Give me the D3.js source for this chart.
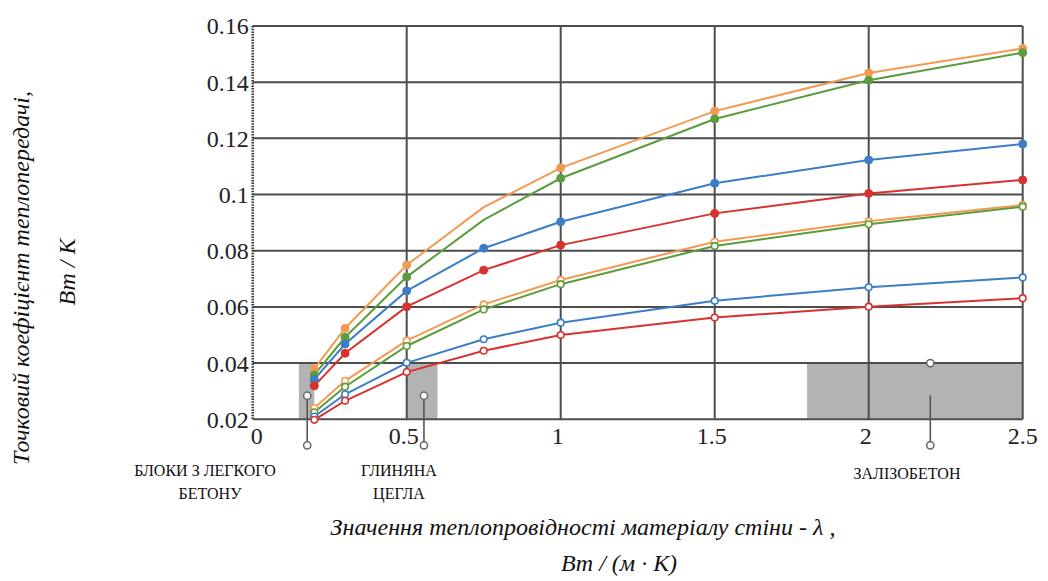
<!DOCTYPE html>
<html>
<head>
<meta charset="utf-8">
<script src="https://cdn.jsdelivr.net/npm/d3@7"></script>
<style>
  @font-face { font-family: "ChartSerif"; src: local("Liberation Serif"), local("LiberationSerif"); font-style: normal; }
  @font-face { font-family: "ChartSerif"; src: local("Liberation Serif Italic"), local("LiberationSerif-Italic"); font-style: italic; }
</style>
</head>
<body style="margin:0">
<script>
// thermal conductivity values (x) shared by all curves
const lambdaValues = [0.2, 0.3, 0.5, 0.75, 1, 1.5, 2, 2.5];

// point heat transfer coefficient, W/K
const orangeFilled = [0.038, 0.0524, 0.0749, 0.0955, 0.1095, 0.1297, 0.1433, 0.152];
const greenFilled  = [0.0358, 0.0492, 0.0707, 0.091, 0.1058, 0.1269, 0.1407, 0.1505];
const blueFilled   = [0.0342, 0.0468, 0.0657, 0.0809, 0.0903, 0.104, 0.1123, 0.118];
const redFilled    = [0.0319, 0.0435, 0.0601, 0.0731, 0.082, 0.0933, 0.1004, 0.1052];
const orangeOpen   = [0.024, 0.0337, 0.048, 0.0609, 0.0696, 0.0832, 0.0905, 0.0963];
const greenOpen    = [0.0225, 0.0316, 0.0461, 0.0591, 0.0681, 0.0817, 0.0894, 0.0957];
const blueOpen     = [0.021, 0.0289, 0.0401, 0.0485, 0.0544, 0.0622, 0.067, 0.0705];
const redOpen      = [0.0198, 0.0266, 0.0368, 0.0444, 0.05, 0.0562, 0.0601, 0.0631];

const xTicks = [0, 0.5, 1, 1.5, 2, 2.5];
const xTickLabels = ["0", "0.5", "1", "1.5", "2", "2.5"];
const yTicks = [0.02, 0.04, 0.06, 0.08, 0.1, 0.12, 0.14, 0.16];
const yTickLabels = ["0.02", "0.04", "0.06", "0.08", "0.1", "0.12", "0.14", "0.16"];

// material ranges (grey bands) : [lambda from, lambda to]
const materialRanges = [[0.15, 0.2], [0.5, 0.6], [1.8, 2.5]];
const materialNames = [["БЛОКИ З ЛЕГКОГО", "БЕТОНУ"], ["ГЛИНЯНА", "ЦЕГЛА"], ["ЗАЛІЗОБЕТОН"]];
const leaderX = [0.177, 0.556, 2.2];
const leaderTop = [0.0284, 0.0284, 0.04];

const width = 1048, height = 581;
const margin = {top: 26, left: 252.7, right: 25.3, bottom: 161.7};
const serif = "'Liberation Serif', ChartSerif, 'Times New Roman', Tinos, serif";

const series = [
  {values: orangeFilled, color: "#f39a52", open: false, skip: [3]},
  {values: greenFilled,  color: "#5b9c3c", open: false, skip: [3]},
  {values: blueFilled,   color: "#3c7dc6", open: false, skip: []},
  {values: redFilled,    color: "#d8322e", open: false, skip: []},
  {values: orangeOpen,   color: "#f39a52", open: true, skip: []},
  {values: greenOpen,    color: "#5b9c3c", open: true, skip: []},
  {values: blueOpen,     color: "#3c7dc6", open: true, skip: []},
  {values: redOpen,      color: "#d8322e", open: true, skip: []}
];

const svg = d3.select("body").append("svg")
    .attr("width", width)
    .attr("height", height);

const x = d3.scaleLinear()
    .domain([0, 2.5])
    .range([margin.left, width - margin.right]);

const y = d3.scaleLinear()
    .domain([0.02, 0.16])
    .range([height - margin.bottom, margin.top]);

// grey bands
svg.append("g")
    .selectAll("rect")
    .data(materialRanges)
    .join("rect")
    .attr("x", d => x(d[0]))
    .attr("y", y(0.04))
    .attr("width", d => x(d[1]) - x(d[0]))
    .attr("height", y(0.02) - y(0.04))
    .attr("fill", "#b3b3b3");

// grid
const grid = svg.append("g").attr("stroke", "#4d4d4d").attr("stroke-width", 2);
grid.selectAll("line.h")
    .data(yTicks)
    .join("line")
    .attr("class", "h")
    .attr("x1", x(0))
    .attr("x2", x(2.5))
    .attr("y1", d => y(d))
    .attr("y2", d => y(d));
grid.selectAll("line.v")
    .data(xTicks.slice(1))
    .join("line")
    .attr("class", "v")
    .attr("x1", d => x(d))
    .attr("x2", d => x(d))
    .attr("y1", y(0.16))
    .attr("y2", y(0.02));
// dotted left axis
svg.append("line")
    .attr("x1", x(0)).attr("x2", x(0))
    .attr("y1", y(0.16)).attr("y2", y(0.02))
    .attr("stroke", "#333")
    .attr("stroke-width", 2.5)
    .attr("stroke-dasharray", "1.5,1.2");

// y tick labels
svg.append("g")
    .selectAll("text")
    .data(yTicks)
    .join("text")
    .attr("x", x(0) - 4)
    .attr("y", d => y(d))
    .attr("dy", "0.35em")
    .attr("text-anchor", "end")
    .attr("font-size", 24)
    .attr("fill", "#222")
    .text((d, i) => yTickLabels[i]);

// x tick labels
svg.append("g")
    .selectAll("text")
    .data(xTicks)
    .join("text")
    .attr("x", d => x(d) + (d === 0 ? 4 : d === 2.5 ? 0 : -3))
    .attr("y", y(0.02) + 25)
    .attr("text-anchor", "middle")
    .attr("font-size", 24)
    .attr("fill", "#222")
    .text((d, i) => xTickLabels[i]);

// leader lines with small circles
const leaders = svg.append("g");
leaderX.forEach((lx, i) => {
  const lineStart = i === 2 ? y(0.0285) : y(leaderTop[i]);
  leaders.append("line")
      .attr("x1", x(lx)).attr("x2", x(lx))
      .attr("y1", lineStart).attr("y2", y(0.02) + 26)
      .attr("stroke", "#555").attr("stroke-width", 1.6);
  [y(leaderTop[i]), y(0.02) + 26].forEach(cy => {
    leaders.append("circle")
        .attr("cx", x(lx)).attr("cy", cy).attr("r", 3.6)
        .attr("fill", "#fff").attr("stroke", "#666").attr("stroke-width", 1.5);
  });
});

// material labels
const labelPos = [[205, 476], [399, 476], [907, 479]];
materialNames.forEach((lines, i) => {
  lines.forEach((s, j) => {
    svg.append("text")
        .attr("text-anchor", "middle")
        .attr("font-size", 16)
        .attr("fill", "#111")
        .attr("x", labelPos[i][0] + (j === 1 && i === 0 ? 5 : 0))
        .attr("y", labelPos[i][1] + j * 23)
        .text(s);
  });
});

// curves
const line = d3.line()
    .x((d, i) => x(lambdaValues[i]))
    .y(d => y(d));

const curves = svg.append("g");
series.forEach(s => {
  curves.append("path")
      .datum(s.values)
      .attr("d", line)
      .attr("fill", "none")
      .attr("stroke", s.color)
      .attr("stroke-width", 2);
});
series.forEach(s => {
  curves.append("g")
      .selectAll("circle")
      .data(s.values.map((v, i) => ({v, i})).filter(d => !s.skip.includes(d.i)))
      .join("circle")
      .attr("cx", d => x(lambdaValues[d.i]))
      .attr("cy", d => y(d.v))
      .attr("r", s.open ? 3.3 : 4)
      .attr("fill", s.open ? "#fff" : s.color)
      .attr("stroke", s.color)
      .attr("stroke-width", s.open ? 1.6 : 1);
});

// axis titles
const titles = [
  {t: "Точковий коефіцієнт теплопередачі,", tr: "translate(29,278) rotate(-90)"},
  {t: "Вт / К", tr: "translate(75,272) rotate(-90)"},
  {t: "Значення теплопровідності матеріалу стіни - λ ,", tr: "translate(583,535)"},
  {t: "Вт / (м · К)", tr: "translate(619,571)"}
];
titles.forEach(o => {
  svg.append("text")
      .attr("class", "title")
      .attr("transform", o.tr)
      .attr("text-anchor", "middle")
      .attr("font-size", 24)
      .attr("fill", "#111")
      .text(o.t);
});

// serif everywhere, forced
svg.selectAll("text")
    .attr("font-family", serif)
    .style("font-family", serif, "important");
svg.selectAll("text.title").style("font-style", "italic", "important");
</script>
</body>
</html>
